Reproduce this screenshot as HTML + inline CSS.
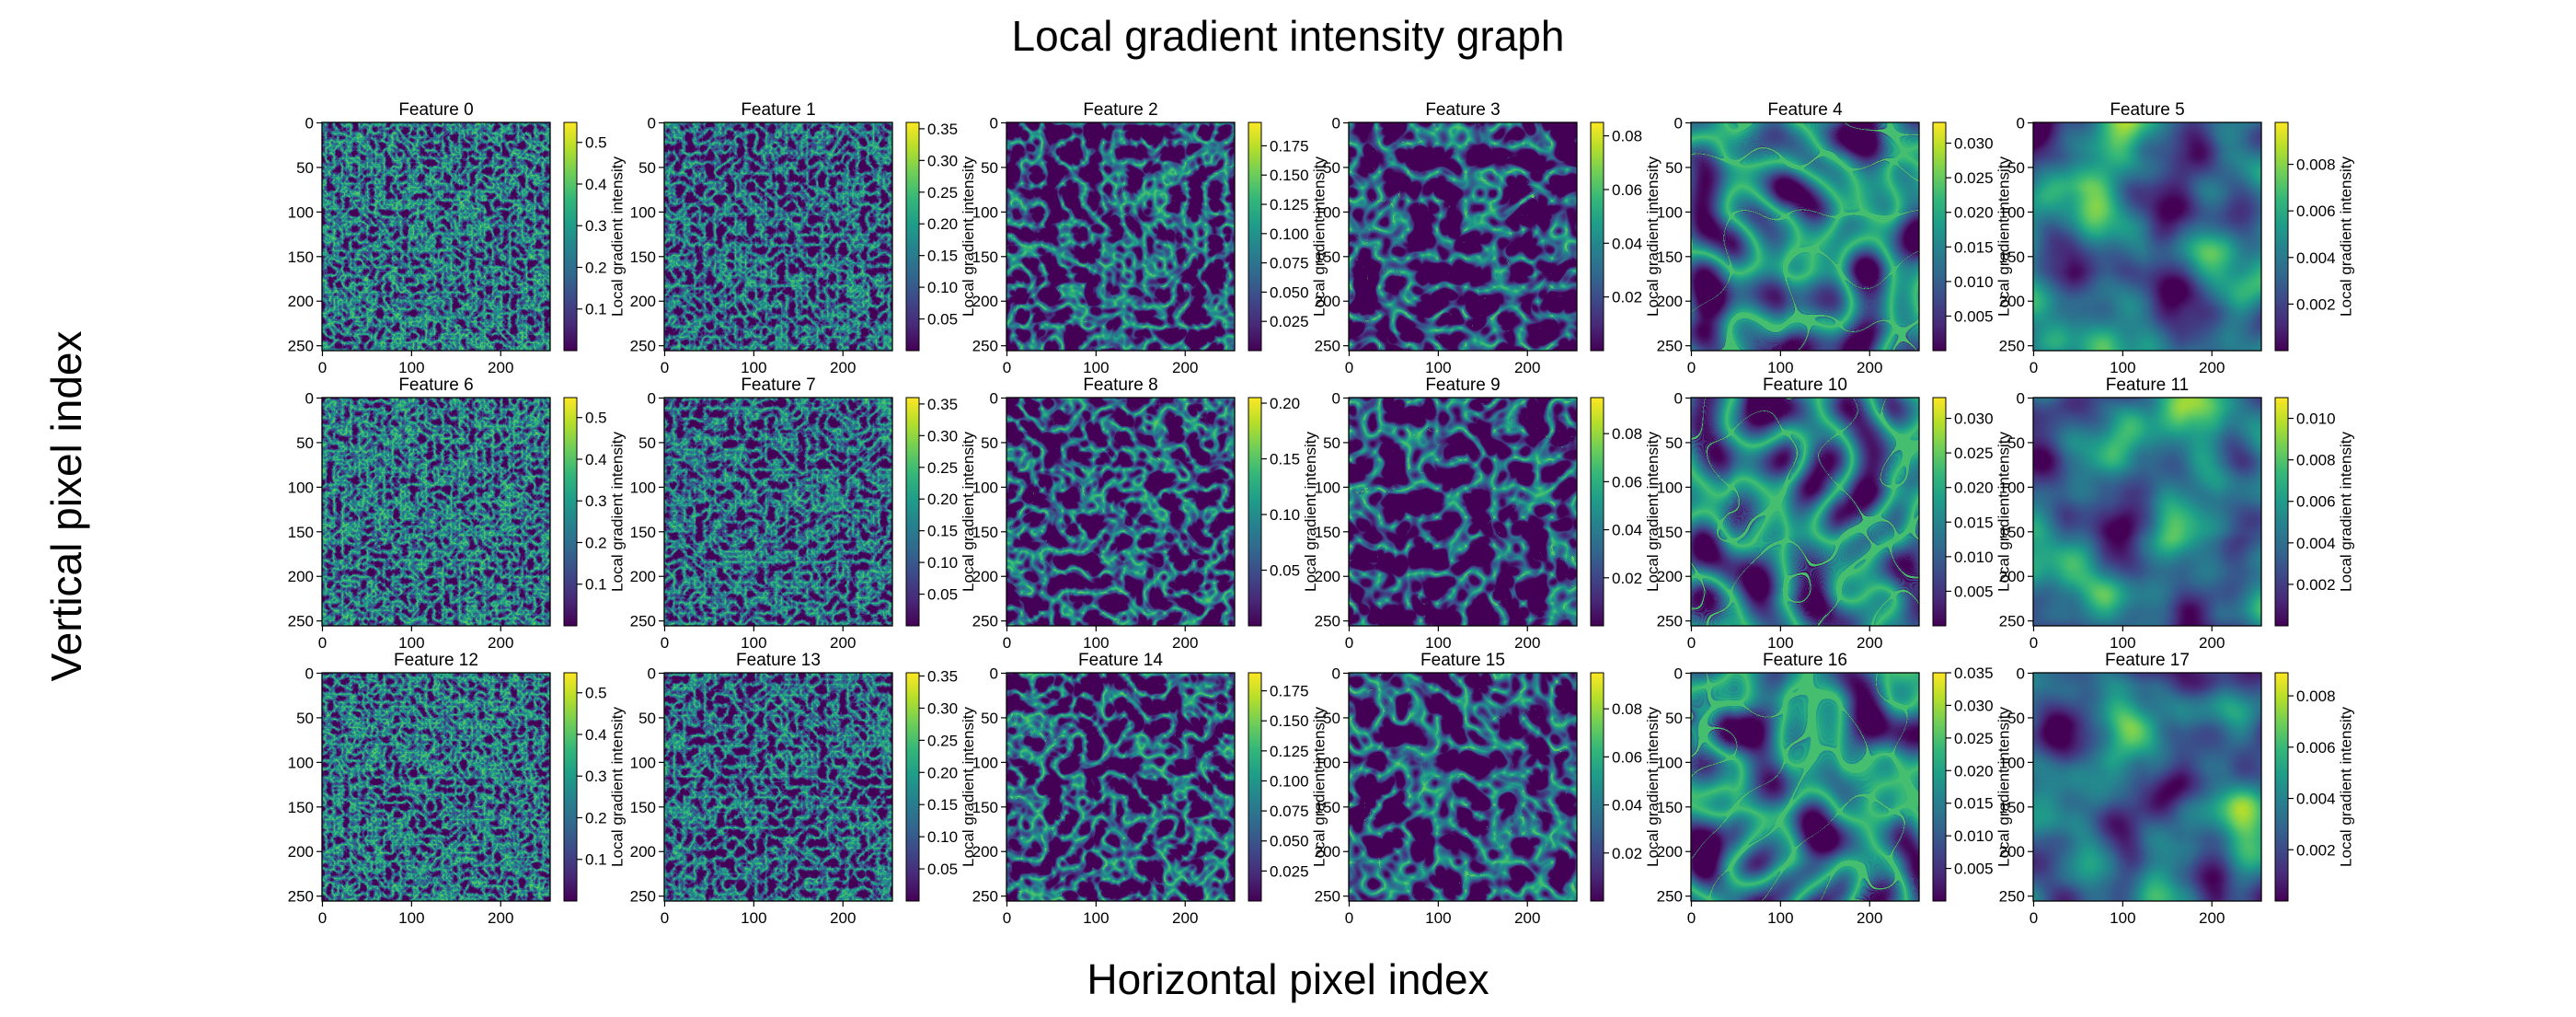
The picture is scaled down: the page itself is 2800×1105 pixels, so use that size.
<!DOCTYPE html>
<html><head><meta charset="utf-8"><style>
body{margin:0;background:#fff;}
svg text{font-family:"Liberation Sans","DejaVu Sans",sans-serif;fill:#000;}
</style></head><body>
<svg id="chart" xmlns="http://www.w3.org/2000/svg" width="2800" height="1100" viewBox="0 0 2800 1100">
<rect width="2800" height="1100" fill="#fff"/>
<defs id="defs"></defs>
<text x="1400" y="55" font-size="46" text-anchor="middle">Local gradient intensity graph</text>
<text x="1400" y="1080" font-size="46" text-anchor="middle">Horizontal pixel index</text>
<text transform="translate(88,550) rotate(-90)" font-size="46" text-anchor="middle">Vertical pixel index</text>
<g id="panels"></g>
</svg>
<script>
const featureNames=["Feature 0","Feature 1","Feature 2","Feature 3","Feature 4","Feature 5","Feature 6","Feature 7","Feature 8","Feature 9","Feature 10","Feature 11","Feature 12","Feature 13","Feature 14","Feature 15","Feature 16","Feature 17"];
const cbarMax=[0.548,0.36,0.195,0.085,0.033,0.0098,0.548,0.36,0.205,0.095,0.033,0.011,0.548,0.355,0.19,0.095,0.035,0.0089];
const cbarTicks=[
[0.1,0.2,0.3,0.4,0.5],[0.05,0.1,0.15,0.2,0.25,0.3,0.35],[0.025,0.05,0.075,0.1,0.125,0.15,0.175],[0.02,0.04,0.06,0.08],[0.005,0.01,0.015,0.02,0.025,0.03],[0.002,0.004,0.006,0.008],
[0.1,0.2,0.3,0.4,0.5],[0.05,0.1,0.15,0.2,0.25,0.3,0.35],[0.05,0.1,0.15,0.2],[0.02,0.04,0.06,0.08],[0.005,0.01,0.015,0.02,0.025,0.03],[0.002,0.004,0.006,0.008,0.01],
[0.1,0.2,0.3,0.4,0.5],[0.05,0.1,0.15,0.2,0.25,0.3,0.35],[0.025,0.05,0.075,0.1,0.125,0.15,0.175],[0.02,0.04,0.06,0.08],[0.005,0.01,0.015,0.02,0.025,0.03,0.035],[0.002,0.004,0.006,0.008]];
const cbarLabels=[
["0.1","0.2","0.3","0.4","0.5"],["0.05","0.10","0.15","0.20","0.25","0.30","0.35"],["0.025","0.050","0.075","0.100","0.125","0.150","0.175"],["0.02","0.04","0.06","0.08"],["0.005","0.010","0.015","0.020","0.025","0.030"],["0.002","0.004","0.006","0.008"],
["0.1","0.2","0.3","0.4","0.5"],["0.05","0.10","0.15","0.20","0.25","0.30","0.35"],["0.05","0.10","0.15","0.20"],["0.02","0.04","0.06","0.08"],["0.005","0.010","0.015","0.020","0.025","0.030"],["0.002","0.004","0.006","0.008","0.010"],
["0.1","0.2","0.3","0.4","0.5"],["0.05","0.10","0.15","0.20","0.25","0.30","0.35"],["0.025","0.050","0.075","0.100","0.125","0.150","0.175"],["0.02","0.04","0.06","0.08"],["0.005","0.010","0.015","0.020","0.025","0.030","0.035"],["0.002","0.004","0.006","0.008"]];
const xTicks=[0,100,200];
const yTicks=[0,50,100,150,200,250];
// texture styling per column (not data)
const colFreq=[0.11,0.09,0.045,0.032,0.017,0.012];
const colType=["turbulence","turbulence","turbulence","turbulence","turbulence","fractalNoise"];
const colSlope=[-1.7,-1.8,-2.4,-2.5,-1.8,1.5];
const colIcpt=[0.85,0.82,0.76,0.74,0.7,-0.4];
const colOct=[3,3,2,2,1,2];

const NS="http://www.w3.org/2000/svg";
const vR="0.27 0.28 0.24 0.19 0.15 0.12 0.21 0.43 0.71 0.99",
      vG="0.00 0.16 0.29 0.41 0.51 0.62 0.72 0.81 0.87 0.91",
      vB="0.33 0.47 0.54 0.56 0.56 0.54 0.47 0.35 0.17 0.15";
const defs=document.getElementById('defs'), root=document.getElementById('panels');
function mk(t,a,p){const e=document.createElementNS(NS,t);for(const k in a)e.setAttribute(k,a[k]);(p||root).appendChild(e);return e;}
const lg=mk('linearGradient',{id:'vir',x1:0,y1:1,x2:0,y2:0},defs);
["#440154","#482878","#3e4989","#31688e","#26828e","#1f9e89","#35b779","#6ece58","#b5de2b","#fde725"].forEach((c,i)=>mk('stop',{offset:i/9,'stop-color':c},lg));
const S=248, X0=350, Y0=133, DX=372, DY=299;
for(let i=0;i<18;i++){
  const r=Math.floor(i/6), c=i%6, x0=X0+c*DX, y0=Y0+r*DY;
  const f=mk('filter',{id:'f'+i,filterUnits:'userSpaceOnUse','color-interpolation-filters':'sRGB'},defs);
  f.setAttribute('x',x0);f.setAttribute('y',y0);f.setAttribute('width',S);f.setAttribute('height',S);
  mk('feTurbulence',{type:colType[c],baseFrequency:colFreq[c],numOctaves:colOct[c],seed:i*7+3},f);
  const sl=colSlope[c], ic=colIcpt[c];
  mk('feColorMatrix',{type:'matrix',values:`${sl} 0 0 0 ${ic}  ${sl} 0 0 0 ${ic}  ${sl} 0 0 0 ${ic}  0 0 0 0 1`},f);
  const ct=mk('feComponentTransfer',{},f);
  mk('feFuncR',{type:'table',tableValues:vR},ct);mk('feFuncG',{type:'table',tableValues:vG},ct);mk('feFuncB',{type:'table',tableValues:vB},ct);
  const g=mk('g',{});
  
  
  mk('rect',{x:x0,y:y0,width:S,height:S,fill:'#440154'},g);
  const im=mk('rect',{x:x0,y:y0,width:S,height:S,filter:`url(#f${i})`,fill:'#000'},g);
  
  
  mk('rect',{x:x0,y:y0,width:S,height:S,fill:'none',stroke:'#000','stroke-width':1.3},g);
  const tt=mk('text',{x:x0+S/2,y:y0-8,'font-size':19,'text-anchor':'middle'},g);tt.textContent=featureNames[i];
  
  
  const px=v=>x0+(v+0.5)/256*S, py=v=>y0+(v+0.5)/256*S;
  xTicks.forEach(v=>{mk('line',{x1:px(v),x2:px(v),y1:y0+S,y2:y0+S+6,stroke:'#000','stroke-width':1.2},g);
    const t=mk('text',{x:px(v),y:y0+S+24,'font-size':17,'text-anchor':'middle'},g);t.textContent=v;
    
    });
  yTicks.forEach(v=>{mk('line',{x1:x0-6,x2:x0,y1:py(v),y2:py(v),stroke:'#000','stroke-width':1.2},g);
    const t=mk('text',{x:x0-9,y:py(v)+6,'font-size':17,'text-anchor':'end'},g);t.textContent=v;
    
    });
  const cx=x0+S+15, cw=14;
  const cb=mk('rect',{x:cx,y:y0,width:cw,height:S,fill:'url(#vir)',stroke:'#000','stroke-width':1},g);
  
  
  const cy=v=>y0+S-v/cbarMax[i]*S;
  let maxW=0;
  cbarTicks[i].forEach((v,k)=>{mk('line',{x1:cx+cw,x2:cx+cw+6,y1:cy(v),y2:cy(v),stroke:'#000','stroke-width':1.2},g);
    const t=mk('text',{x:cx+cw+9,y:cy(v)+6,'font-size':17},g);t.textContent=cbarLabels[i][k];
    
    
    maxW=Math.max(maxW,t.getComputedTextLength());});
  const lx=cx+cw+9+maxW+17;
  const cl=mk('text',{transform:`translate(${lx},${y0+S/2}) rotate(-90)`,'font-size':17,'text-anchor':'middle'},g);
  cl.textContent='Local gradient intensity';
  
  
}
</script>
</body></html>
